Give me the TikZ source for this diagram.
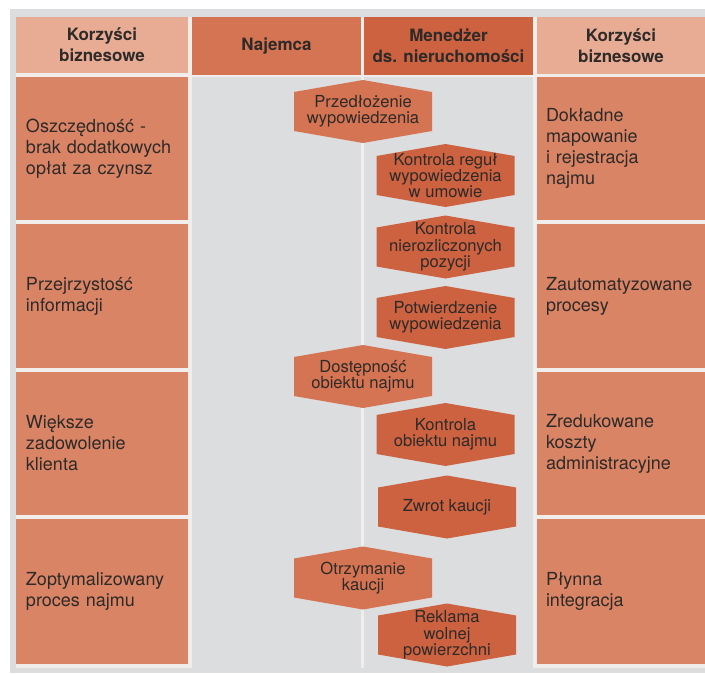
\documentclass[tikz,border=0pt]{standalone}
\usepackage{fontspec}
\setmainfont{TeX Gyre Heros}
\usetikzlibrary{calc}

\definecolor{bggray}{HTML}{DCDDDF}
\definecolor{pale}{HTML}{F1EDEB}
\definecolor{headlight}{HTML}{E8AC94}
\definecolor{rowfill}{HTML}{DA8466}
\definecolor{tenantfill}{HTML}{D57453}
\definecolor{managerfill}{HTML}{CD6241}
\definecolor{ink}{HTML}{2E2A28}

\pgfdeclarelayer{bg}
\pgfsetlayers{bg,main}

\tikzset{
  every node/.style={text=ink, inner sep=0pt, outer sep=0pt},
  headbox/.style={minimum height=57, align=center,
    font={\fontsize{17}{21}\selectfont\bfseries}},
  leftrow/.style={fill=rowfill, minimum height=143, text width=152,
    inner xsep=10, align=left, font={\fontsize{18}{21}\selectfont}},
  rightrow/.style={fill=rowfill, minimum height=143, text width=150,
    inner xsep=9, align=left, font={\fontsize{18}{21}\selectfont}},
  hexbox/.style={minimum width=138, minimum height=39, align=center,
    font={\fontsize{16.6}{16.3}\selectfont}},
}

\begin{document}
\begin{tikzpicture}[x=1pt,y=-1pt]
\useasboundingbox (0,0) rectangle (705,673);

% column headers
\node[headbox, fill=headlight, minimum width=172, minimum height=56] (hl) at (102,45) {Korzyści\\biznesowe};
\node[headbox, fill=tenantfill, minimum width=169, minimum height=58] (hn) at (276.5,46) {Najemca};
\node[headbox, fill=managerfill, minimum width=169, minimum height=58] (hm) at (448.5,46) {Menedżer\\ds. nieruchomości};
\node[headbox, fill=headlight, minimum width=168] (hr) at (621,45.5) {Korzyści\\biznesowe};

% business benefits, left column
\node[leftrow] (l1) at (102,148.5) {Oszczędność -\\brak dodatkowych\\opłat za czynsz};
\node[leftrow, minimum height=144] (l2) at (102,296) {Przejrzystość\\informacji};
\node[leftrow] (l3) at (102,443.5) {Większe\\zadowolenie\\klienta};
\node[leftrow, minimum height=145] (l4) at (102,591.5) {Zoptymalizowany\\proces najmu};

% business benefits, right column
\node[rightrow] (r1) at (621,148.5) {Dokładne\\mapowanie\\i rejestracja\\najmu};
\node[rightrow, minimum height=144] (r2) at (621,296) {Zautomatyzowane\\procesy};
\node[rightrow] (r3) at (621,443.5) {Zredukowane\\koszty\\administracyjne};
\node[rightrow, minimum height=145] (r4) at (621,591.5) {Płynna\\integracja};

% process steps
\node[hexbox] (h1) at (363,111.5) {Przedłożenie\\wypowiedzenia};
\node[hexbox] (h2) at (445.5,175.5) {Kontrola reguł\\wypowiedzenia\\w umowie};
\node[hexbox] (h3) at (445.5,247) {Kontrola\\nierozliczonych\\pozycji};
\node[hexbox] (h4) at (445.5,317.5) {Potwierdzenie\\wypowiedzenia};
\node[hexbox] (h5) at (363,376.5) {Dostępność\\obiektu najmu};
\node[hexbox] (h6) at (445.5,434.5) {Kontrola\\obiektu najmu};
\node[hexbox] (h7) at (447,507) {Zwrot kaucji};
\node[hexbox] (h8) at (363,578) {Otrzymanie\\kaucji};
\node[hexbox] (h9) at (447,635) {Reklama\\wolnej\\powierzchni};

\begin{pgfonlayer}{bg}
  \fill[white] (0,0) rectangle (705,673);
  \fill[bggray] (10,9) rectangle (705,673);
  \fill[pale] (16,17) rectangle (705,668);
  % swimlanes
  \fill[bggray] (192,77) rectangle (361,673);
  \fill[bggray] (364,77) rectangle (533,673);
  % hexagonal step shapes
  \foreach \n/\c in {h1/tenantfill, h2/managerfill, h3/managerfill,
                     h4/managerfill, h5/tenantfill, h6/managerfill,
                     h7/managerfill, h8/tenantfill, h9/managerfill}
    \fill[\c] ($(\n.center)+(-69,-19.5)$) -- ($(\n.center)+(0,-31.5)$)
      -- ($(\n.center)+(69,-19.5)$) -- ($(\n.center)+(69,19.5)$)
      -- ($(\n.center)+(0,31.5)$) -- ($(\n.center)+(-69,19.5)$) -- cycle;
\end{pgfonlayer}
\end{tikzpicture}
\end{document}
